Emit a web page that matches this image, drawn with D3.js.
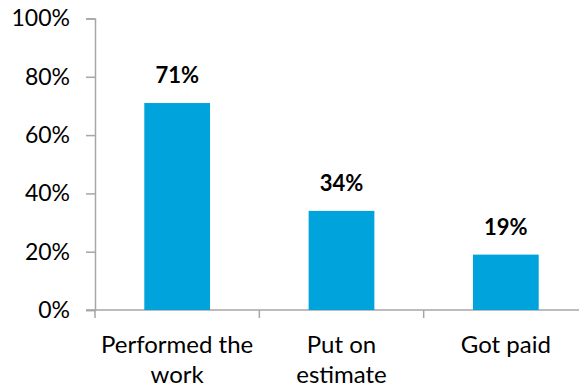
<!DOCTYPE html>
<html>
<head>
<meta charset="utf-8">
<script src="https://cdn.jsdelivr.net/npm/d3@7"></script>
<style>
  body { margin: 0; background: #fff; }
  text { font-family: Lato, "Open Sans", sans-serif; fill: #000; }
</style>
</head>
<body>
<script>
const w = 579;
const h = 390;

const categories = ["Performed the work", "Put on estimate", "Got paid"];
const catLines = [["Performed the", "work"], ["Put on", "estimate"], ["Got paid"]];
const values = [0.71, 0.34, 0.19];
const yTicks = [0, 0.2, 0.4, 0.6, 0.8, 1.0];

const mLeft = 95, mRight = 588, mTop = 18.5, mBottom = 310;

const svg = d3.select("body")
  .append("svg")
  .attr("width", w)
  .attr("height", h);

const x = d3.scaleBand()
  .domain(categories)
  .range([mLeft, mRight])
  .paddingInner(0.6)
  .paddingOuter(0.3);

const y = d3.scaleLinear()
  .domain([0, 1])
  .range([mBottom, mTop]);

// y axis
const yAxis = svg.append("g")
  .attr("transform", `translate(${mLeft},0)`)
  .call(d3.axisLeft(y).tickValues(yTicks).tickFormat(d3.format(".0%")).tickSize(9).tickPadding(16));
yAxis.select(".domain").attr("stroke", "#a6a6a6").attr("stroke-width", 1.5);
yAxis.selectAll(".tick line").attr("stroke", "#a6a6a6").attr("stroke-width", 1.5);
yAxis.selectAll(".tick text").attr("font-size", 23).attr("font-family", "Lato, sans-serif").attr("fill", "#000");

// x axis line + ticks between categories
const step = x.step();
const boundaries = d3.range(categories.length + 1).map(i => mLeft + i * step);
svg.append("line")
  .attr("x1", mLeft - 9).attr("x2", w)
  .attr("y1", y(0)).attr("y2", y(0))
  .attr("stroke", "#a6a6a6").attr("stroke-width", 1.5);
svg.selectAll(".xtick")
  .data(boundaries)
  .join("line")
  .attr("class", "xtick")
  .attr("x1", d => d).attr("x2", d => d)
  .attr("y1", y(0)).attr("y2", y(0) + 8)
  .attr("stroke", "#a6a6a6").attr("stroke-width", 1.5);

// bars
svg.selectAll(".bar")
  .data(values)
  .join("rect")
  .attr("class", "bar")
  .attr("x", (d, i) => x(categories[i]))
  .attr("width", x.bandwidth())
  .attr("y", d => y(d))
  .attr("height", d => y(0) - y(d))
  .attr("fill", "#00a3db");

// value labels
svg.selectAll(".val")
  .data(values)
  .join("text")
  .attr("class", "val")
  .attr("x", (d, i) => x(categories[i]) + x.bandwidth() / 2)
  .attr("y", d => y(d) - 20)
  .attr("text-anchor", "middle")
  .attr("font-size", 22)
  .attr("font-weight", "bold")
  .text(d => d3.format(".0%")(d));

// category labels
const cat = svg.selectAll(".cat")
  .data(catLines)
  .join("text")
  .attr("class", "cat")
  .attr("text-anchor", "middle")
  .attr("font-size", 24)
  .attr("x", (d, i) => x(categories[i]) + x.bandwidth() / 2)
  .attr("y", 353);
cat.selectAll("tspan")
  .data(d => d)
  .join("tspan")
  .attr("x", function() { return this.parentNode.getAttribute("x"); })
  .attr("dy", (d, i) => i === 0 ? 0 : 30)
  .text(d => d);
</script>
</body>
</html>
